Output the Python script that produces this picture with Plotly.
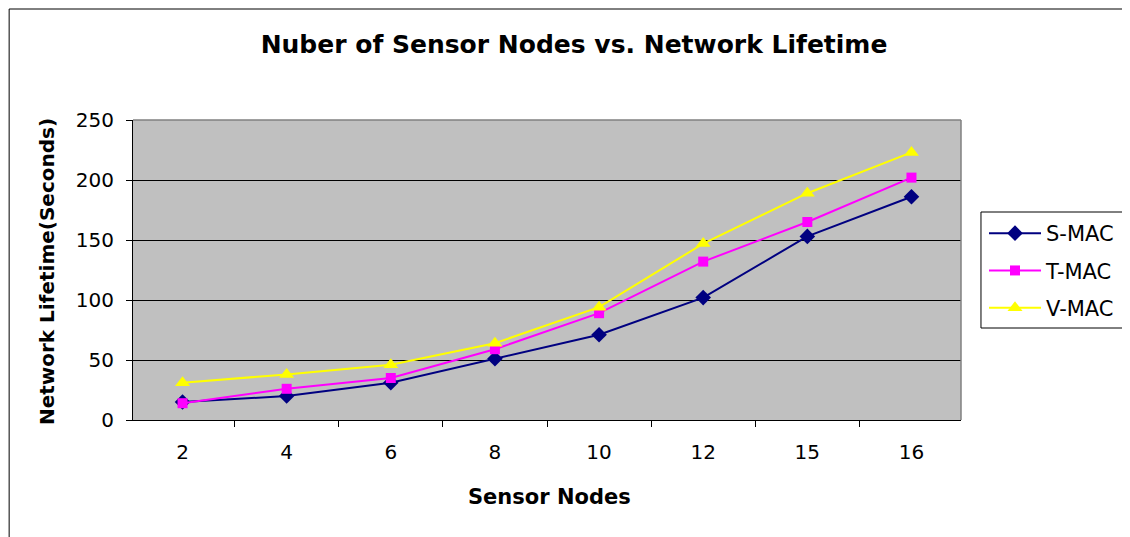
import plotly.graph_objects as go

# sensor node counts (category axis, 15 sits between 12 and 16)
nodes = ["2", "4", "6", "8", "10", "12", "15", "16"]

s_mac = [15, 20, 31, 51, 71, 102, 153, 186]
t_mac = [14, 26, 35, 59, 89, 132, 165, 202]
v_mac = [31, 38, 46, 64, 94, 147, 189, 223]

FONT = "DejaVu Sans"

# the page keeps an 8px body margin, so everything is laid out 8px up/left
OFF = 8
W, H = 1130 - OFF, 537 - OFF
L, T = 133 - OFF, 120 - OFF
PW, PH = 829, 300          # plot area size in px


def px_x(x):
    # page x pixel -> paper coordinate
    return (x - 133) / PW


def px_y(y):
    # page y pixel -> paper coordinate
    return (420 - y) / PH


fig = go.Figure()

series = [
    ("S-MAC", s_mac, "#000080", "diamond", 12),
    ("T-MAC", t_mac, "#FF00FF", "square", 10),
    ("V-MAC", v_mac, "#FFFF00", "triangle-up", 13),
]
for i, (name, vals, color, symbol, size) in enumerate(series):
    fig.add_trace(go.Scatter(
        x=nodes, y=vals, name=name, mode="lines+markers",
        line=dict(color=color, width=2),
        marker=dict(symbol=symbol, size=size, color=color, line=dict(width=0)),
        legendgroup=f"g{i}",
    ))

fig.update_layout(
    width=W, height=H,
    margin=dict(l=L, r=W - L - PW, t=T, b=H - T - PH),
    paper_bgcolor="white",
    plot_bgcolor="#C0C0C0",
    font=dict(family=FONT, color="black", size=20),
    title=dict(
        text="<b>Nuber of Sensor Nodes vs. Network Lifetime</b>",
        x=(574 - OFF) / W, xref="container", xanchor="center",
        y=1 - (44 - OFF) / H, yref="container", yanchor="middle",
        font=dict(family=FONT, size=25, color="black"),
    ),
    legend=dict(
        x=px_x(984), y=px_y(213), xanchor="left", yanchor="top",
        borderwidth=0, bgcolor="rgba(0,0,0,0)",
        font=dict(family=FONT, size=21),
        traceorder="grouped", tracegroupgap=7, itemwidth=52,
    ),
    showlegend=True,
)

fig.update_xaxes(
    type="category", showline=True, linecolor="black", linewidth=1,
    ticks="outside", ticklen=6, tickcolor="black", tickson="boundaries",
    showgrid=False, zeroline=False, ticklabelstandoff=14,
    tickfont=dict(family=FONT, size=20),
)
fig.update_yaxes(
    range=[0, 250], dtick=50, showline=True, linecolor="black", linewidth=1,
    ticks="outside", ticklen=6, tickcolor="black",
    showgrid=True, gridcolor="black", gridwidth=1, zeroline=False,
    ticklabelstandoff=8, tickfont=dict(family=FONT, size=20),
)

# axis titles placed like the original
fig.add_annotation(
    text="<b>Sensor Nodes</b>", xref="paper", yref="paper",
    x=px_x(550), y=px_y(497), showarrow=False,
    xanchor="center", yanchor="middle", font=dict(family=FONT, size=21),
)
fig.add_annotation(
    text="<b>Network Lifetime(Seconds)</b>", xref="paper", yref="paper",
    x=px_x(47), y=px_y(272), showarrow=False, textangle=-90,
    xanchor="center", yanchor="middle", font=dict(family=FONT, size=20),
)

# grey top/right edge of the plot area
fig.add_shape(type="line", xref="paper", yref="paper", x0=0, x1=1, y0=1, y1=1,
              line=dict(color="#808080", width=1.5))
fig.add_shape(type="line", xref="paper", yref="paper", x0=1, x1=1, y0=0, y1=1,
              line=dict(color="#808080", width=1.5))

# legend box, runs off the right edge like the original
fig.add_shape(type="rect", xref="paper", yref="paper",
              x0=px_x(982), x1=px_x(1140), y0=px_y(328), y1=px_y(212),
              line=dict(color="black", width=1), fillcolor="rgba(0,0,0,0)")

# outer chart frame; the figure starts at page px 8 so keep it just inside
fig.add_shape(type="rect", xref="paper", yref="paper",
              x0=px_x(9), x1=px_x(1140), y0=px_y(545), y1=px_y(9),
              line=dict(color="black", width=1), fillcolor="rgba(0,0,0,0)")

fig.write_html("out.html")
